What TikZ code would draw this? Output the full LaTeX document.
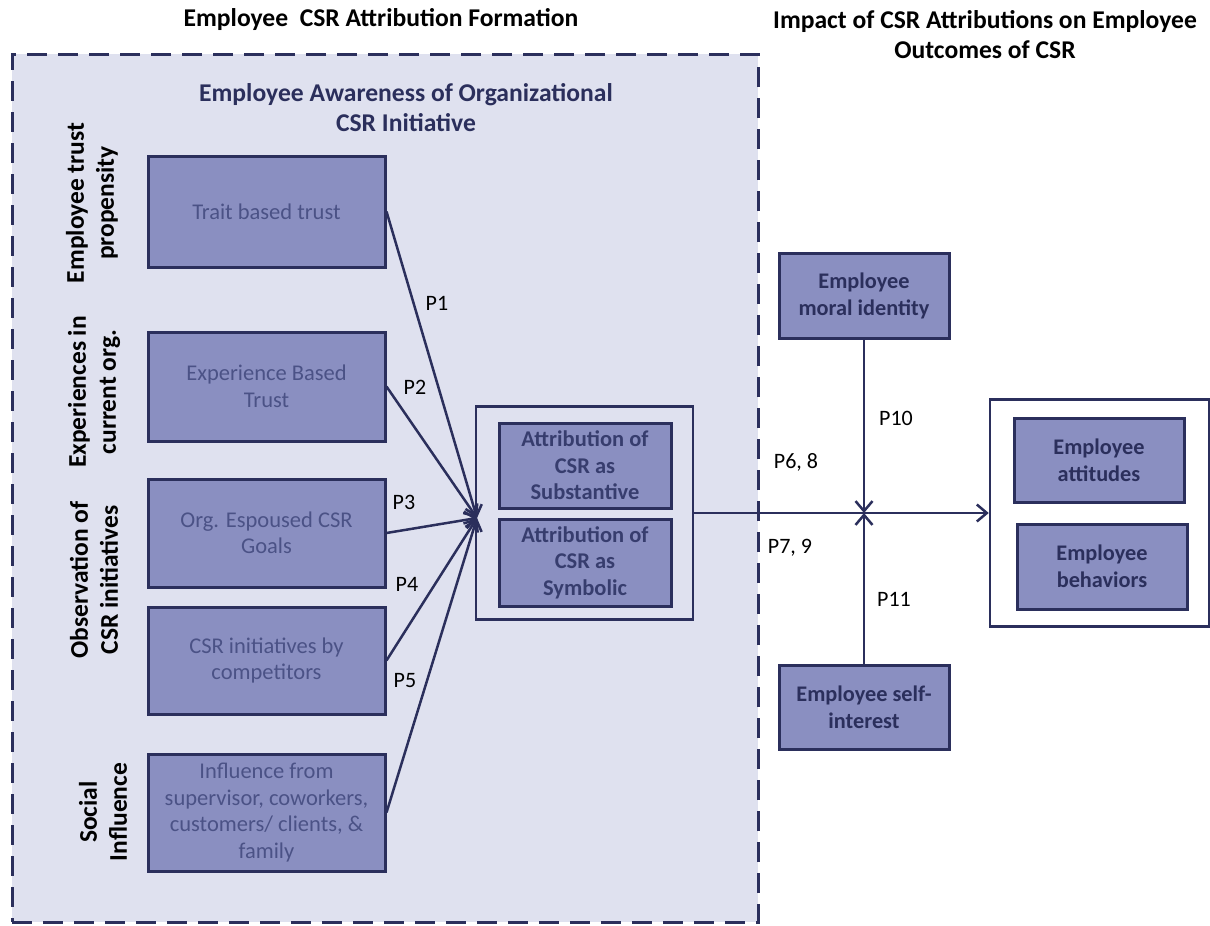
\documentclass[tikz,border=0pt]{standalone}
\usepackage{fontspec}
\setmainfont{Carlito}
\usetikzlibrary{arrows.meta}
\definecolor{bgl}{HTML}{DFE1EF}
\definecolor{boxf}{HTML}{8A8FC1}
\definecolor{navy}{HTML}{2B2F5C}
\definecolor{ltxt}{HTML}{4B5286}
\definecolor{atxt}{HTML}{373D6E}
\tikzset{
  ttl/.style={font=\bfseries\fontsize{25.6}{30}\selectfont, align=center, text=black, inner sep=0pt},
  subttl/.style={font=\bfseries\fontsize{25.6}{30}\selectfont, align=center, text=navy, inner sep=0pt},
  sidelab/.style={rotate=90, font=\bfseries\fontsize{25.5}{30}\selectfont, align=center, text=black, inner sep=0pt},
  lbox/.style={draw=navy, line width=3pt, fill=boxf, text=ltxt, font=\fontsize{22.5}{26.5}\selectfont, align=center, inner sep=0pt},
  bbox/.style={lbox, text=atxt, font=\bfseries\fontsize{22.5}{26.5}\selectfont},
  rbox/.style={lbox, text=navy, font=\bfseries\fontsize{22.3}{27}\selectfont},
  framebox/.style={draw=navy, line width=2.5pt, inner sep=0pt},
  region/.style={draw=navy, line width=3pt, dash pattern=on 20pt off 11pt, fill=bgl, inner sep=0pt},
  conn/.style={draw=navy, line width=2.5pt},
  tip/.style={-{Straight Barb[length=10pt,width=17pt]}},
  plab/.style={font=\fontsize{22}{26}\selectfont, text=black, inner sep=0pt}
}
\begin{document}
\begin{tikzpicture}[x=1pt,y=-1pt]
\useasboundingbox (0,0) rectangle (1210,926);
\fill[white] (0,0) rectangle (1210,926);

% titles
\node[ttl] (t1) at (381,20) {Employee\ \ CSR Attribution Formation};
\node[ttl] (t2) at (985,35) {Impact of CSR Attributions on Employee\\Outcomes of CSR};

% dashed region
\node[region, minimum width=746pt, minimum height=868pt] (reg) at (385,488) {};
\node[subttl] (sub) at (406,108) {Employee Awareness of Organizational\\CSR Initiative};

% side labels
\node[sidelab] (s1) at (92,203) {Employee trust\\propensity};
\node[sidelab] (s2) at (94,392) {Experiences in\\current org.};
\node[sidelab] (s3) at (94,580) {Observation of\\CSR initiatives};
\node[sidelab] (s4) at (103,812) {Social\\Influence};

% left boxes
\node[lbox, minimum width=237pt, minimum height=111pt] (trait) at (266.5,211.5) {Trait based trust};
\node[lbox, minimum width=237pt, minimum height=109pt] (exper) at (266.5,386.5) {Experience Based\\Trust};
\node[lbox, minimum width=237pt, minimum height=108pt] (org) at (266.5,533) {Org. Espoused CSR\\Goals};
\node[lbox, minimum width=237pt, minimum height=107pt] (comp) at (266.5,660.5) {CSR initiatives by\\competitors};
\node[lbox, minimum width=237pt, minimum height=117pt] (infl) at (266.5,812.5) {Influence from\\supervisor, coworkers,\\customers/ clients, \&\\family};

% attribution frame
\node[framebox, fill=bgl, minimum width=217pt, minimum height=213pt] (attr) at (584.5,513) {};
\node[bbox, minimum width=172pt, minimum height=85pt] (subst) at (585,465.5) {Attribution of\\CSR as\\Substantive};
\node[bbox, minimum width=172pt, minimum height=87pt] (symb) at (585,562.5) {Attribution of\\CSR as\\Symbolic};
\coordinate (conv) at (477,518);

% right side
\node[rbox, minimum width=170pt, minimum height=85pt] (moral) at (864,295.5) {Employee\\moral identity};
\node[rbox, minimum width=170pt, minimum height=84pt] (self) at (864,707) {Employee self-\\interest};
\node[framebox, fill=white, minimum width=219pt, minimum height=227pt] (out) at (1099.5,513) {};
\node[rbox, minimum width=170pt, minimum height=84pt] (att) at (1099,460) {Employee\\attitudes};
\node[rbox, minimum width=170pt, minimum height=85pt] (beh) at (1102,566.5) {Employee\\behaviors};
\coordinate (cross) at (864,513);

% connectors
\draw[conn, tip] (trait.east) -- (conv);
\draw[conn, tip] (exper.east) -- (conv);
\draw[conn, tip] (org.east) -- (conv);
\draw[conn, tip] (comp.east) -- (conv);
\draw[conn, tip] (infl.east) -- (conv);
\draw[conn, tip] (attr.east) -- (out.west);
\draw[conn, tip] (moral.south) -- (cross);
\draw[conn, tip] (self.north) -- (cross);

% labels
\node[plab] (p1) at (437,303) {P1};
\node[plab] (p2) at (415,387) {P2};
\node[plab] (p3) at (404,502) {P3};
\node[plab] (p4) at (407,584) {P4};
\node[plab] (p5) at (405,681) {P5};
\node[plab] (p68) at (796,462) {P6, 8};
\node[plab] (p79) at (790,548) {P7, 9};
\node[plab] (p10) at (896,418) {P10};
\node[plab] (p11) at (894,599) {P11};
\end{tikzpicture}
\end{document}
